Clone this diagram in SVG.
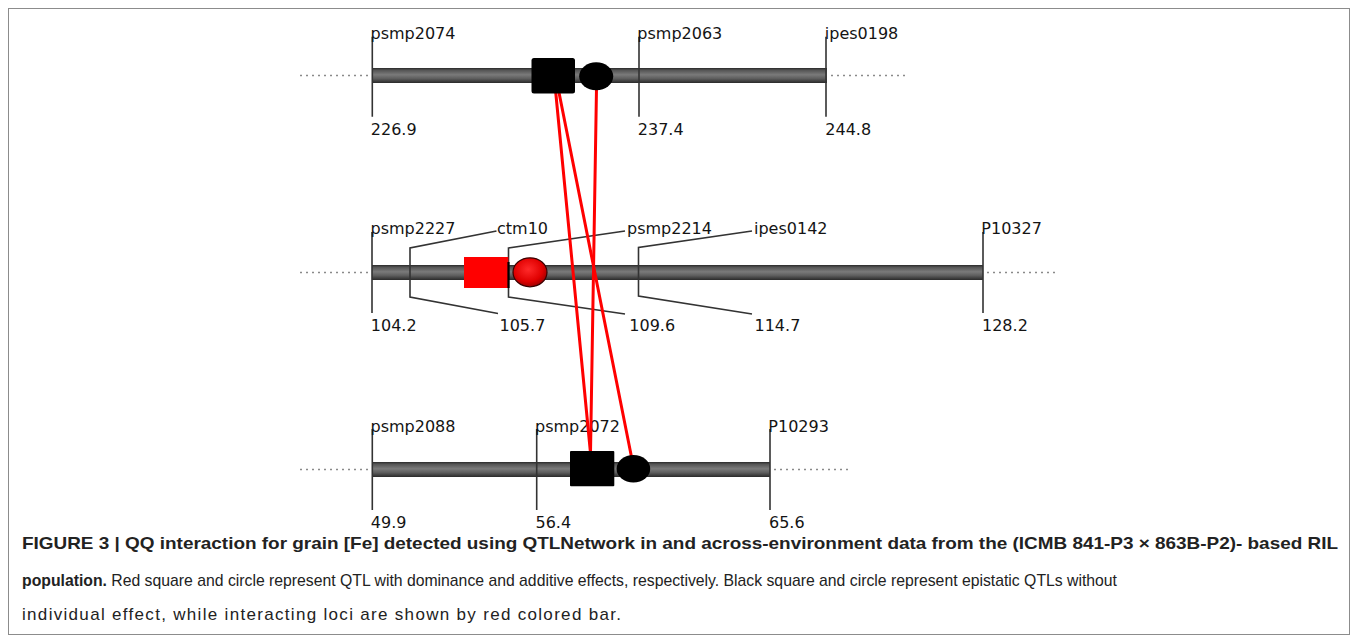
<svg xmlns="http://www.w3.org/2000/svg" width="1358" height="643" viewBox="0 0 1358 643">
<defs>
<linearGradient id="barGrad" x1="0" y1="0" x2="0" y2="1">
<stop offset="0" stop-color="#2a2a2a"/>
<stop offset="0.15" stop-color="#555"/>
<stop offset="0.45" stop-color="#7a7a7a"/>
<stop offset="0.7" stop-color="#5e5e5e"/>
<stop offset="1" stop-color="#2a2a2a"/>
</linearGradient>
<radialGradient id="redBall" cx="0.45" cy="0.4" r="0.6">
<stop offset="0" stop-color="#ff2a2a"/>
<stop offset="0.7" stop-color="#e00000"/>
<stop offset="1" stop-color="#a00000"/>
</radialGradient>
</defs>
<style>
.frame{fill:#fff;stroke:#8c8c8c;stroke-width:1}
.bar{fill:url(#barGrad)}
.dots{stroke:#8a8a8a;stroke-width:1.3;stroke-dasharray:2 4;fill:none}
.tick{stroke:#333;stroke-width:1.6;fill:none}
.lbl{font-family:"DejaVu Sans",sans-serif;font-size:16px;fill:#141414}
.link{stroke:#ff0000;stroke-width:3;fill:none;stroke-linecap:round}
.blk{fill:#000}
.cap{font-family:"Liberation Sans",Arial,sans-serif;font-size:17px;fill:#222}
.capb{font-weight:bold}
</style>
<rect class="frame" x="8.5" y="8.5" width="1341" height="626"/>

<g id="chromosome1">
<line class="dots" x1="300" y1="75.5" x2="369" y2="75.5"/>
<line class="dots" x1="831" y1="75.5" x2="905" y2="75.5"/>
<rect class="bar" x="372" y="68" width="455" height="15"/>
<path class="tick" d="M372.3 36.7V116.7M639 36.7V116.7M826 36.7V116.7"/>
<text class="lbl" x="370.5" y="38.5">psmp2074</text>
<text class="lbl" x="637.3" y="38.5">psmp2063</text>
<text class="lbl" x="824.8" y="38.5">ipes0198</text>
<text class="lbl" x="370.8" y="135">226.9</text>
<text class="lbl" x="637.8" y="135">237.4</text>
<text class="lbl" x="825.3" y="135">244.8</text>
</g>

<g id="chromosome2">
<line class="dots" x1="300" y1="272.5" x2="369" y2="272.5"/>
<line class="dots" x1="987" y1="272.5" x2="1058" y2="272.5"/>
<rect class="bar" x="372" y="265" width="611" height="15"/>
<path class="tick" d="M372 232V313M983 232V313"/>
<path class="tick" d="M496.5 231L410 248V297L498 313.5"/>
<path class="tick" d="M625 231L508.5 248V297L625 314"/>
<path class="tick" d="M752 231L638.5 247.5V296L752 314"/>
<text class="lbl" x="370.5" y="234.3">psmp2227</text>
<text class="lbl" x="497" y="234.3">ctm10</text>
<text class="lbl" x="627" y="234.3">psmp2214</text>
<text class="lbl" x="754" y="234.3">ipes0142</text>
<text class="lbl" x="981.3" y="234.3">P10327</text>
<text class="lbl" x="370.8" y="331">104.2</text>
<text class="lbl" x="499.5" y="331">105.7</text>
<text class="lbl" x="629.3" y="331">109.6</text>
<text class="lbl" x="754.5" y="331">114.7</text>
<text class="lbl" x="982" y="331">128.2</text>
</g>

<g id="chromosome3">
<line class="dots" x1="300" y1="469.5" x2="369" y2="469.5"/>
<line class="dots" x1="774" y1="469.5" x2="848" y2="469.5"/>
<rect class="bar" x="372" y="462" width="398" height="15"/>
<path class="tick" d="M372.3 429V510M536.7 429V510M770 429V510"/>
<text class="lbl" x="370.5" y="431.5">psmp2088</text>
<text class="lbl" x="535" y="431.5">psmp2072</text>
<text class="lbl" x="768.3" y="431.5">P10293</text>
<text class="lbl" x="370.8" y="528">49.9</text>
<text class="lbl" x="535.5" y="528">56.4</text>
<text class="lbl" x="769" y="528">65.6</text>
</g>

<g id="connectors">
<line class="link" x1="555.5" y1="90" x2="590.5" y2="453"/>
<line class="link" x1="558.5" y1="90" x2="631.5" y2="457"/>
<line class="link" x1="596.5" y1="88" x2="590.5" y2="453"/>
</g>

<g id="qtl-chr1-square"><rect class="blk" x="531.5" y="58" width="43.5" height="35.5" rx="2.5"/></g>
<g id="qtl-chr1-circle"><ellipse class="blk" cx="596.2" cy="76.3" rx="17" ry="14"/></g>

<g id="qtl-chr2-square"><rect x="464" y="257" width="44.3" height="31" fill="#ff0000"/><line x1="508.5" y1="262" x2="508.5" y2="288" stroke="#000" stroke-width="2.2"/></g>
<g id="qtl-chr2-circle"><ellipse cx="530" cy="272.3" rx="17" ry="14.5" fill="url(#redBall)" stroke="#3a0000" stroke-width="1.2"/></g>

<g id="qtl-chr3-square"><rect class="blk" x="570" y="451" width="44.3" height="35.3" rx="1"/></g>
<g id="qtl-chr3-circle"><ellipse class="blk" cx="633.4" cy="468.8" rx="16.8" ry="13.8"/></g>

<g id="caption">
<text class="cap capb" x="22" y="549" textLength="1316" lengthAdjust="spacingAndGlyphs">FIGURE 3 | QQ interaction for grain [Fe] detected using QTLNetwork in and across-environment data from the (ICMB 841-P3 × 863B-P2)- based RIL</text>
<text class="cap" x="22" y="586" textLength="1095" lengthAdjust="spacingAndGlyphs"><tspan class="capb">population.</tspan> Red square and circle represent QTL with dominance and additive effects, respectively. Black square and circle represent epistatic QTLs without</text>
<text class="cap" x="22" y="620" textLength="599" lengthAdjust="spacing">individual effect, while interacting loci are shown by red colored bar.</text>
</g>
</svg>
